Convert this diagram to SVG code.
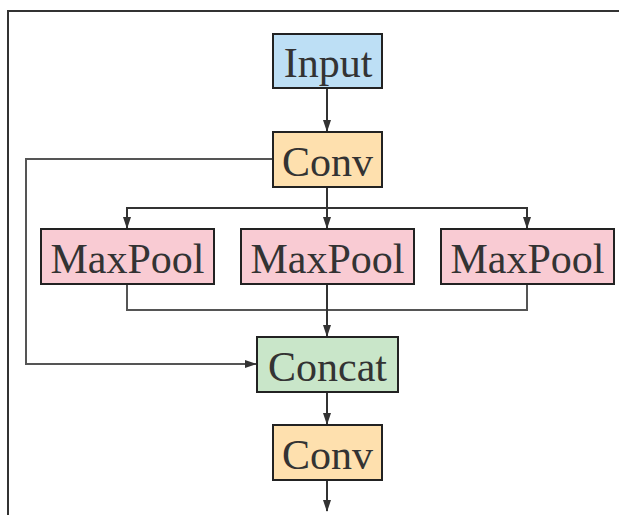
<svg xmlns="http://www.w3.org/2000/svg" width="619" height="515" viewBox="0 0 619 515">
  <style>
    .box { stroke: #222; stroke-width: 2; }
    .lbl { font-family: "Liberation Serif", "Times New Roman", serif; font-size: 42px; fill: #333; text-anchor: middle; }
    .wire { fill: none; stroke: #333; stroke-width: 2; }
    .thin { fill: none; stroke: #555; stroke-width: 2; }
    .frame { fill: none; stroke: #333; stroke-width: 2; }
  </style>
  <defs>
    <marker id="arrow" markerWidth="12" markerHeight="10" refX="11" refY="5" orient="auto" markerUnits="userSpaceOnUse">
      <path d="M0,1 L12,5 L0,9 Z" fill="#333"/>
    </marker>
  </defs>
  <rect width="619" height="515" fill="#fff"/>
  <!-- outer frame, runs off the right and bottom edges -->
  <path class="frame" d="M8,530 V11 H640"/>

  <g id="connectors">
    <path class="wire" d="M327,89 V131" marker-end="url(#arrow)"/>
    <path class="wire" d="M327,187 V228" marker-end="url(#arrow)"/>
    <path class="wire" d="M127,228 V208 H527 V228" marker-end="url(#arrow)"/>
    <path class="wire" d="M127,208 V228" marker-end="url(#arrow)"/>
    <path class="thin" d="M127,284 V310 H527 V284"/>
    <path class="wire" d="M327,284 V336" marker-end="url(#arrow)"/>
    <path class="thin" d="M272,159 H26 V364 H256" marker-end="url(#arrow)"/>
    <path class="wire" d="M327,392 V424" marker-end="url(#arrow)"/>
    <path class="wire" d="M327,480 V511" marker-end="url(#arrow)"/>
  </g>

  <g id="input">
    <rect class="box" x="273" y="34" width="109" height="54" fill="#bddff5"/>
    <text class="lbl" x="328" y="77">Input</text>
  </g>
  <g id="conv1">
    <rect class="box" x="273" y="132" width="109" height="55" fill="#fee0ae"/>
    <text class="lbl" x="327.5" y="175.5">Conv</text>
  </g>
  <g id="maxpool1">
    <rect class="box" x="41" y="229" width="173" height="55" fill="#f9cbd3"/>
    <text class="lbl" x="127.5" y="273">MaxPool</text>
  </g>
  <g id="maxpool2">
    <rect class="box" x="241" y="229" width="173" height="55" fill="#f9cbd3"/>
    <text class="lbl" x="327.5" y="273">MaxPool</text>
  </g>
  <g id="maxpool3">
    <rect class="box" x="441" y="229" width="173" height="55" fill="#f9cbd3"/>
    <text class="lbl" x="527.5" y="273">MaxPool</text>
  </g>
  <g id="concat">
    <rect class="box" x="257" y="337" width="141" height="55" fill="#c9e6c9"/>
    <text class="lbl" x="327.5" y="380.5">Concat</text>
  </g>
  <g id="conv2">
    <rect class="box" x="273" y="425" width="109" height="55" fill="#fee0ae"/>
    <text class="lbl" x="327.5" y="468.5">Conv</text>
  </g>
</svg>
